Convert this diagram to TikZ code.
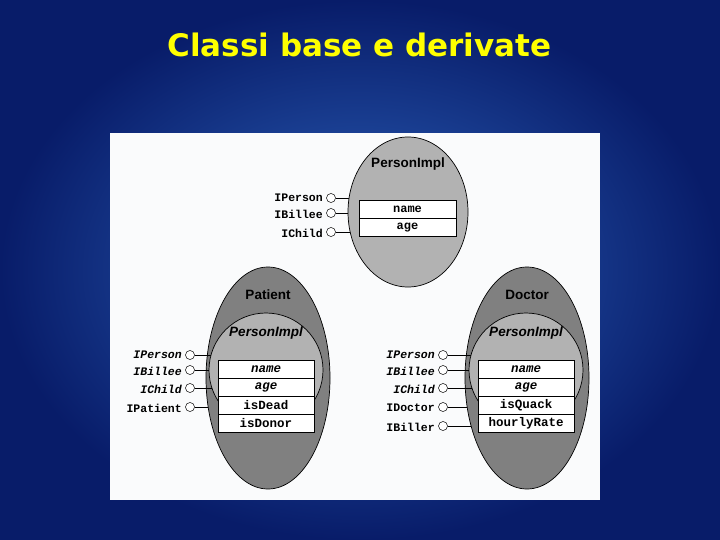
\documentclass[tikz,border=0pt]{standalone}
\usepackage{fontspec}
\setmainfont{Liberation Sans}
\setsansfont{Liberation Sans}
\setmonofont{Liberation Mono}
\newfontfamily\titlefont{DejaVu Sans}
\usetikzlibrary{shapes.geometric}
\definecolor{bgdark}{RGB}{8,28,105}
\definecolor{bglight}{RGB}{45,100,190}
\definecolor{titleyellow}{RGB}{255,255,0}
\definecolor{outergray}{RGB}{128,128,128}
\definecolor{innergray}{RGB}{178,178,178}
\definecolor{panelwhite}{RGB}{250,251,252}
\tikzset{
  x=1pt,y=-1pt,
  outerell/.style={ellipse,draw=black,line width=0.7pt,fill=outergray,inner sep=0pt,minimum width=124,minimum height=222},
  innerell/.style={circle,draw=black,line width=0.7pt,fill=innergray,inner sep=0pt,minimum size=114},
  topell/.style={ellipse,draw=black,line width=0.7pt,fill=innergray,inner sep=0pt,minimum width=120,minimum height=150},
  field/.style={draw=black,line width=0.6pt,fill=white,inner sep=0pt,minimum width=96,minimum height=18,font=\fontsize{12.5}{14}\selectfont\ttfamily\bfseries},
  fieldit/.style={field,font=\fontsize{12.5}{14}\selectfont\ttfamily\bfseries\itshape},
  topfield/.style={field,minimum width=97,font=\fontsize{12}{14}\selectfont\ttfamily\bfseries},
  ifc/.style={circle,draw=black,line width=0.5pt,fill=white,inner sep=0pt,minimum size=9},
  ifl/.style={anchor=east,inner sep=0pt,font=\fontsize{11.5}{13}\selectfont\ttfamily\bfseries},
  iflit/.style={ifl,font=\fontsize{11.5}{13}\selectfont\ttfamily\bfseries\itshape},
  conn/.style={draw=black,line width=0.6pt},
  cname/.style={inner sep=0pt,font=\fontsize{13.5}{15}\selectfont\sffamily\bfseries},
  cnameit/.style={cname,font=\fontsize{13.5}{15}\selectfont\sffamily\bfseries\itshape},
}
\begin{document}
\begin{tikzpicture}
\useasboundingbox (0,0) rectangle (720,540);
\shade[inner color=bglight,outer color=bgdark] (0,0) rectangle (720,540);
\fill[panelwhite] (110,133) rectangle (600,500);
% title
\node[text=titleyellow,font=\fontsize{31}{36}\titlefont\bfseries] (title) at (359.5,45) {Classi base e derivate};

% ---------- top PersonImpl ----------
\coordinate (pic) at (408,212);
\node[ifc] (t1) at (331,198) {};
\node[ifc] (t2) at (331,213) {};
\node[ifc] (t3) at (331,232) {};
\node[ifl] (tl1) at (323,198) {IPerson};
\node[ifl] (tl2) at (323,214) {IBillee};
\node[ifl] (tl3) at (323,233) {IChild};
\draw[conn] (t1.east) -- (t1 -| pic);
\draw[conn] (t2.east) -- (t2 -| pic);
\draw[conn] (t3.east) -- (t3 -| pic);
\node[topell] (pi) at (pic) {};
\node[cname] (pilab) at (408,164) {PersonImpl};
\node[topfield] (pf1) at (407.5,209) {name};
\node[topfield] (pf2) at (407.5,227.5) {age};

% ---------- Patient ----------
\coordinate (patc) at (268,378);
\coordinate (patic) at (266,370);
\node[ifc] (p1) at (190,355) {};
\node[ifc] (p2) at (190,370) {};
\node[ifc] (p3) at (190,388) {};
\node[ifc] (p4) at (190,407) {};
\node[iflit] (pl1) at (182,355) {IPerson};
\node[iflit] (pl2) at (182,371) {IBillee};
\node[iflit] (pl3) at (182,389) {IChild};
\node[ifl] (pl4) at (182,408) {IPatient};
\draw[conn] (p4.east) -- (p4 -| patc);
\node[outerell] (pat) at (patc) {};
\draw[conn] (p1.east) -- (p1 -| patic);
\draw[conn] (p2.east) -- (p2 -| patic);
\draw[conn] (p3.east) -- (p3 -| patic);
\node[innerell] (pati) at (patic) {};
\node[cname] (patlab) at (268,295) {Patient};
\node[cnameit] (patilab) at (266,333) {PersonImpl};
\node[fieldit] (pa1) at (266,369.5) {name};
\node[fieldit] (pa2) at (266,387.5) {age};
\node[field] (pa3) at (266,405.5) {isDead};
\node[field] (pa4) at (266,423.5) {isDonor};

% ---------- Doctor ----------
\coordinate (docc) at (527,378);
\coordinate (docic) at (526,370);
\node[ifc] (d1) at (443,355) {};
\node[ifc] (d2) at (443,370) {};
\node[ifc] (d3) at (443,388) {};
\node[ifc] (d4) at (443,407) {};
\node[ifc] (d5) at (443,426) {};
\node[iflit] (dl1) at (435,355) {IPerson};
\node[iflit] (dl2) at (435,371) {IBillee};
\node[iflit] (dl3) at (435,389) {IChild};
\node[ifl] (dl4) at (435,408) {IDoctor};
\node[ifl] (dl5) at (435,427) {IBiller};
\draw[conn] (d4.east) -- (d4 -| docc);
\draw[conn] (d5.east) -- (d5 -| docc);
\node[outerell] (doc) at (docc) {};
\draw[conn] (d1.east) -- (d1 -| docic);
\draw[conn] (d2.east) -- (d2 -| docic);
\draw[conn] (d3.east) -- (d3 -| docic);
\node[innerell] (doci) at (docic) {};
\node[cname] (doclab) at (527,295) {Doctor};
\node[cnameit] (docilab) at (526,333) {PersonImpl};
\node[fieldit] (da1) at (526,369.5) {name};
\node[fieldit] (da2) at (526,387.5) {age};
\node[field] (da3) at (526,405.5) {isQuack};
\node[field] (da4) at (526,423.5) {hourlyRate};
\end{tikzpicture}
\end{document}
